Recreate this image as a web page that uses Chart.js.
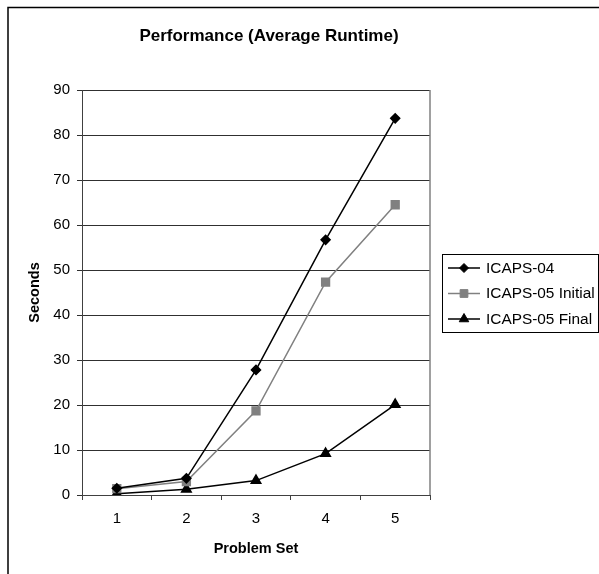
<!DOCTYPE html>
<html lang="en">
<head>
    <meta charset="UTF-8">
    <title>Performance (Average Runtime)</title>
    <script src="https://cdn.jsdelivr.net/npm/chart.js"></script>
    <style>
        body { margin: 0; background: #fff; }
    </style>
</head>
<body>
    <canvas id="myChart" width="599" height="574"></canvas>

    <script>
        // data
        const problemSets = ["1", "2", "3", "4", "5"];
        const icaps04 = [1.5, 3.7, 27.8, 56.7, 83.7];
        const icaps05Initial = [1.4, 3.0, 18.7, 47.3, 64.5];
        const icaps05Final = [0.3, 1.3, 3.2, 9.2, 20.1];
        const seriesNames = ["ICAPS-04", "ICAPS-05 Initial", "ICAPS-05 Final"];
        const chartTitle = "Performance (Average Runtime)";

        const FONT = "Arial, 'Liberation Sans', sans-serif";

        // outer frame, title, plot border and the boxed legend on the right
        const framePlugin = {
            id: 'frame',
            afterDraw(chart) {
                const ctx = chart.ctx;
                const area = chart.chartArea;
                ctx.save();

                // outer chart border (runs off the picture right and bottom)
                ctx.strokeStyle = '#000';
                ctx.lineWidth = 1.5;
                ctx.beginPath();
                ctx.moveTo(8, 574);
                ctx.lineTo(8, 7.5);
                ctx.lineTo(599, 7.5);
                ctx.stroke();

                // title, centred on the whole (wider) chart frame
                ctx.fillStyle = '#000';
                ctx.font = "bold 17px " + FONT;
                ctx.textAlign = 'center';
                ctx.textBaseline = 'middle';
                ctx.fillText(chartTitle, 269, 36);

                // plot area right edge
                ctx.strokeStyle = '#808080';
                ctx.lineWidth = 1.5;
                ctx.beginPath();
                ctx.moveTo(area.right, area.top);
                ctx.lineTo(area.right, area.bottom);
                ctx.stroke();

                // legend box
                ctx.strokeStyle = '#000';
                ctx.lineWidth = 1;
                ctx.strokeRect(442.5, 254.5, 156, 78);

                ctx.font = "15.4px " + FONT;
                ctx.textAlign = 'left';
                chart.data.datasets.forEach((ds, i) => {
                    const y = 268 + i * 25.5;
                    ctx.strokeStyle = ds.borderColor;
                    ctx.lineWidth = ds.borderWidth;
                    ctx.beginPath();
                    ctx.moveTo(448, y);
                    ctx.lineTo(480, y);
                    ctx.stroke();
                    ctx.fillStyle = ds.pointBackgroundColor;
                    ctx.strokeStyle = ds.pointBorderColor;
                    ctx.lineWidth = 1;
                    Chart.helpers.drawPoint(ctx, {
                        pointStyle: ds.pointStyle,
                        radius: ds.pointRadius,
                        rotation: 0,
                        borderWidth: 1
                    }, 464, y);
                    ctx.fillStyle = '#000';
                    ctx.fillText(ds.label, 486, y + 0.5);
                });
                ctx.restore();
            }
        };

        const ctx = document.getElementById('myChart').getContext('2d');
        const myChart = new Chart(ctx, {
            type: 'line',
            data: {
                labels: problemSets,
                datasets: [
                    {
                        label: seriesNames[0],
                        data: icaps04,
                        borderColor: '#000',
                        borderWidth: 1.5,
                        pointStyle: 'rectRot',
                        pointRadius: 4.5,
                        pointBackgroundColor: '#000',
                        pointBorderColor: '#000',
                        tension: 0
                    },
                    {
                        label: seriesNames[1],
                        data: icaps05Initial,
                        borderColor: '#808080',
                        borderWidth: 1.5,
                        pointStyle: 'rect',
                        pointRadius: 5.5,
                        pointBackgroundColor: '#808080',
                        pointBorderColor: '#808080',
                        tension: 0
                    },
                    {
                        label: seriesNames[2],
                        data: icaps05Final,
                        borderColor: '#000',
                        borderWidth: 1.5,
                        pointStyle: 'triangle',
                        pointRadius: 5.5,
                        pointBackgroundColor: '#000',
                        pointBorderColor: '#000',
                        tension: 0
                    }
                ]
            },
            options: {
                responsive: false,
                animation: false,
                layout: {
                    padding: { top: 90, left: 0, right: 169, bottom: 0 }
                },
                scales: {
                    x: {
                        offset: true,
                        grid: {
                            offset: true,
                            drawOnChartArea: false,
                            drawTicks: true,
                            tickLength: 5,
                            color: '#404040'
                        },
                        border: { color: '#404040', width: 1 },
                        ticks: {
                            color: '#000',
                            padding: 10,
                            font: { family: FONT, size: 15 }
                        },
                        title: {
                            display: true,
                            text: 'Problem Set',
                            color: '#000',
                            font: { family: FONT, size: 14.5, weight: 'bold' },
                            padding: { top: 0, bottom: 16 }
                        },
                        afterFit: (scale) => { scale.height = 79; }
                    },
                    y: {
                        min: 0,
                        max: 90,
                        grid: {
                            color: '#303030',
                            lineWidth: 1,
                            tickLength: 5
                        },
                        border: { color: '#404040', width: 1 },
                        ticks: {
                            stepSize: 10,
                            color: '#000',
                            padding: 7,
                            font: { family: FONT, size: 15 }
                        },
                        title: {
                            display: true,
                            text: 'Seconds',
                            color: '#000',
                            font: { family: FONT, size: 14.5, weight: 'bold' },
                            padding: { top: 26, bottom: 0 }
                        },
                        afterFit: (scale) => { scale.width = 82; }
                    }
                },
                plugins: {
                    legend: { display: false },
                    tooltip: { enabled: false },
                    title: { display: false }
                }
            },
            plugins: [framePlugin]
        });
    </script>
</body>
</html>
